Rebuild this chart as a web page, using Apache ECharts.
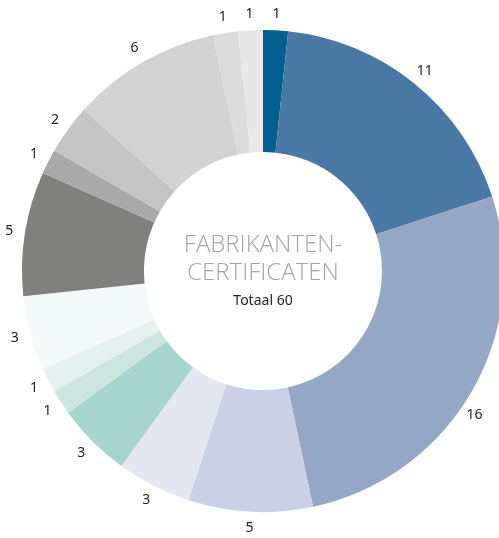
<!DOCTYPE html>
<html>
<head>
<meta charset="utf-8">
<script src="https://cdn.jsdelivr.net/npm/echarts@6/dist/echarts.min.js"></script>
<style>
  html, body { margin: 0; padding: 0; background: #fff; }
  #chart { width: 499px; height: 538px; }
</style>
</head>
<body>
<div id="chart"></div>
<script>
// Certificate counts per manufacturer, clockwise from 12 o'clock
const values = [1, 11, 16, 5, 3, 3, 1, 1, 3, 5, 1, 2, 6, 1, 1];
const colors = [
  '#035e91', '#4a78a5', '#94a7c5', '#cbd1e5', '#e4e6f1',
  '#a5d5cc', '#cce5df', '#e3f1ee', '#f3f9f9',
  '#80807e', '#a9a9a9', '#c4c4c4', '#d2d2d2', '#dcdcdc', '#e8e8e8'
];
const titleLines = ['FABRIKANTEN-', 'CERTIFICATEN'];
const totalLabel = 'Totaal ' + values.reduce((a, b) => a + b, 0);

const data = values.map((v, i) => ({ value: v, itemStyle: { color: colors[i] } }));
// value labels; the large slice's label sits a little lower, clear of the canvas edge
const labelData = values.map((v, i) => (
  i === 2 ? { value: v, label: { offset: [-11, 16] } } : { value: v }
));
const center = [263, 271];

const chart = echarts.init(document.getElementById('chart'), null, { renderer: 'canvas' });
chart.setOption({
  animation: false,
  series: [
    {
      type: 'pie',
      center: center,
      radius: [119, 241],
      startAngle: 90,
      clockwise: true,
      silent: true,
      label: { show: false },
      labelLine: { show: false },
      data: data
    },
    {
      // invisible ring that carries the value labels just outside the donut
      type: 'pie',
      center: center,
      radius: [241, 267],
      startAngle: 90,
      clockwise: true,
      silent: true,
      itemStyle: { color: 'rgba(0,0,0,0)' },
      label: {
        show: true,
        position: 'inside',
        formatter: '{c}',
        color: '#222',
        fontSize: 14,
        fontFamily: 'Noto Sans'
      },
      labelLine: { show: false },
      data: labelData
    }
  ],
  graphic: [
    {
      type: 'text',
      x: center[0], y: 245,
      style: {
        text: titleLines[0], fill: '#a3a3a3', fontSize: 24, fontWeight: 300,
        fontFamily: 'Open Sans', align: 'center', verticalAlign: 'middle'
      }
    },
    {
      type: 'text',
      x: center[0], y: 273,
      style: {
        text: titleLines[1], fill: '#a3a3a3', fontSize: 24, fontWeight: 300,
        fontFamily: 'Open Sans', align: 'center', verticalAlign: 'middle'
      }
    },
    {
      type: 'text',
      x: center[0], y: 301,
      style: {
        text: totalLabel, fill: '#222', fontSize: 14,
        fontFamily: 'Noto Sans', align: 'center', verticalAlign: 'middle'
      }
    }
  ]
});
</script>
</body>
</html>
